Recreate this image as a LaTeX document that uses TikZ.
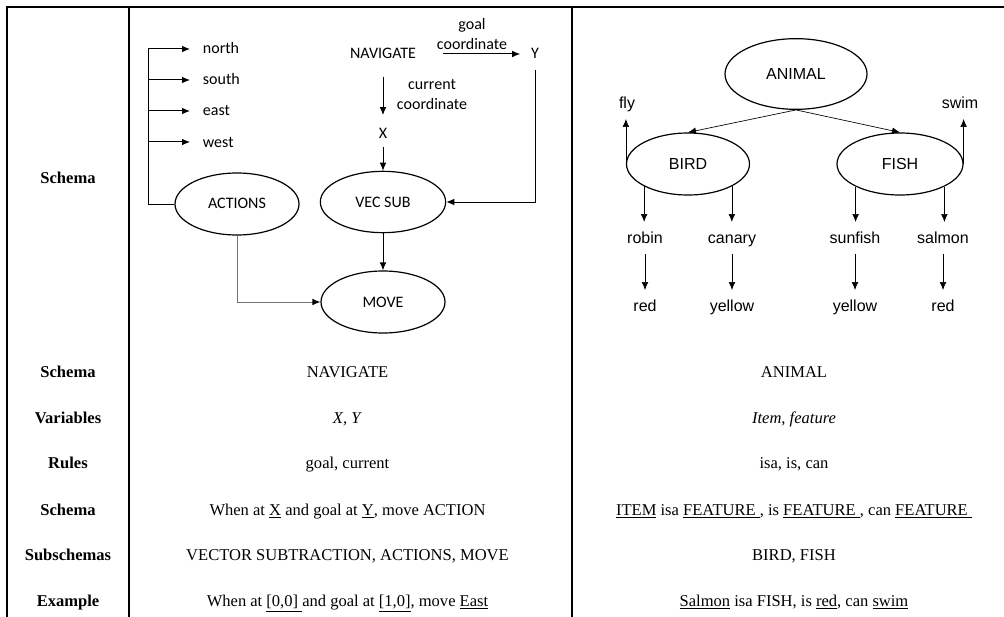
\documentclass[tikz,border=0pt]{standalone}
\usepackage{fontspec}
\setmainfont{Liberation Serif}
\newfontfamily\calibri{Carlito}
\newfontfamily\arial{Liberation Sans}
\usetikzlibrary{shapes, arrows.meta}

\tikzset{
	rule/.style={line width=0.9pt},
	bubble/.style={draw, ellipse, line width=0.9pt, inner sep=0pt,
		font=\fontsize{12}{15}\calibri, text height=7.5pt, text depth=0pt},
	oval/.style={draw, ellipse, line width=0.9pt, inner sep=0pt,
		font=\fontsize{12}{15}\arial, text height=8.6pt, text depth=0pt},
	tag/.style={font=\fontsize{12}{15}\calibri, text height=7.5pt, text depth=0pt, inner sep=5pt},
	note/.style={font=\fontsize{12}{15}\calibri, align=center, inner sep=1pt},
	word/.style={font=\fontsize{12}{15}\arial, text height=8.6pt, text depth=0pt,
		inner xsep=3pt, inner ysep=7.5pt},
	cell/.style={font=\fontsize{12.4}{15}\selectfont, text height=8.2pt, text depth=0pt, inner sep=0pt},
	head/.style={cell, font=\fontsize{12.4}{15}\selectfont\bfseries},
	link/.style={->, line width=0.75pt},
	thin link/.style={->, line width=0.5pt},
}

\begin{document}
\begin{tikzpicture}[x=0.75pt, y=-0.75pt, >={Latex[length=6pt, width=5pt]}]
	\useasboundingbox (0,0) rectangle (1004,617);

	% table rules
	\draw[rule] (7,617) -- (7,7) -- (1004,7);
	\draw[rule] (129,7) -- (129,617);
	\draw[rule] (572,7) -- (572,617);

	% navigate schema
	\coordinate (trunk) at (148,49);
	\node[tag, anchor=west] (north) at (196,49)  {north};
	\node[tag, anchor=west] (south) at (196,80)  {south};
	\node[tag, anchor=west] (east)  at (196,111) {east};
	\node[tag, anchor=west] (west)  at (196,142) {west};

	\node[bubble, minimum width=93pt, minimum height=46.5pt] (actions) at (237,204) {ACTIONS};
	\node[bubble, minimum width=94pt, minimum height=46pt]   (vecsub)  at (383,202) {VEC SUB};
	\node[bubble, minimum width=93pt, minimum height=46.5pt] (move)    at (383,302) {MOVE};

	\node[tag] (navigate) at (383,54)  {NAVIGATE};
	\node[tag] (x)        at (383,133) {X};
	\node[tag] (y)        at (535,54)  {Y};
	\coordinate (goalstart) at (443,54);
	\node[note] (goal)    at (472,34) {goal\\coordinate};
	\node[note] (current) at (432,95) {current\\coordinate};

	\draw[line width=0.75pt] (actions.west) -| (trunk);
	\draw[link, shorten >=4.5pt] (trunk) -- (north);
	\draw[link, shorten >=4.5pt] (trunk |- south) -- (south);
	\draw[link, shorten >=4.5pt] (trunk |- east) -- (east);
	\draw[link, shorten >=4.5pt] (trunk |- west) -- (west);

	\draw[link, shorten <=8pt, shorten >=4.5pt] (navigate) -- (x);
	\draw[link, shorten <=1.5pt] (x) -- (vecsub);
	\draw[link, shorten >=3pt] (goalstart) -- (y);
	\draw[link, shorten <=3pt] (y) |- (vecsub);
	\draw[link] (vecsub) -- (move);
	\draw[line width=0.75pt, draw=black!55, -{Latex[length=6pt, width=5pt, color=black]}]
		(actions) |- (move);

	% animal schema
	\node[oval, minimum width=106.5pt, minimum height=53pt] (animal) at (796,74) {ANIMAL};
	\node[oval, minimum width=92.25pt, minimum height=46.5pt] (bird) at (688,164) {BIRD};
	\node[oval, minimum width=94.5pt, minimum height=46.5pt]  (fish) at (900,164) {FISH};

	\node[word] (fly)     at (627,103) {fly};
	\node[word] (swim)    at (960,103) {swim};
	\node[word] (robin)   at (645,238) {robin};
	\node[word] (canary)  at (732,238) {canary};
	\node[word] (sunfish) at (855,238) {sunfish};
	\node[word] (salmon)  at (943,238) {salmon};
	\node[word] (redA)    at (645,306) {red};
	\node[word] (yellowA) at (732,306) {yellow};
	\node[word] (yellowB) at (855,306) {yellow};
	\node[word] (redB)    at (943,306) {red};

	\draw[thin link] (animal.south) -- (bird.north);
	\draw[thin link] (animal.south) -- (fish.north);
	\draw[thin link] (bird.west) -- (bird.west |- fly.south);
	\draw[thin link] (fish.east) -- (fish.east |- swim.south);
	\draw[thin link] (bird.-153) -- (bird.-153 |- robin.north);
	\draw[thin link] (bird.-27)  -- (bird.-27 |- canary.north);
	\draw[thin link] (fish.-153) -- (fish.-153 |- sunfish.north);
	\draw[thin link] (fish.-27)  -- (fish.-27 |- salmon.north);
	\draw[thin link] (robin)   -- (redA);
	\draw[thin link] (canary)  -- (yellowA);
	\draw[thin link] (sunfish) -- (yellowB);
	\draw[thin link] (salmon)  -- (redB);

	% row headings
	\node[head] (hschema)  at (68,178) {Schema};
	\node[head] (hname)    at (68,372) {Schema};
	\node[head] (hvars)    at (68,418) {Variables};
	\node[head] (hrules)   at (68,463) {Rules};
	\node[head] (hform)    at (68,510) {Schema};
	\node[head] (hsub)     at (68,555) {Subschemas};
	\node[head] (hexample) at (68,601) {Example};

	% navigate column
	\node[cell] (navname)  at (347.5,372) {NAVIGATE};
	\node[cell] (navvars)  at (347.5,418) {\textit{X, Y}};
	\node[cell] (navrules) at (347.5,463) {goal, current};
	\node[cell] (navform)  at (347.5,510) {When at \underline{X} and goal at \underline{Y}, move ACTION};
	\node[cell] (navsub)   at (347.5,555) {VECTOR SUBTRACTION, ACTIONS, MOVE};
	\node[cell] (navex)    at (347.5,601)
		{When at \underline{[0,0]\ }and goal at \underline{[1,0]}, move \underline{East}};

	% animal column
	\node[cell] (aniname)  at (794,372) {ANIMAL};
	\node[cell] (anivars)  at (794,418) {\textit{Item}, \textit{feature}};
	\node[cell] (anirules) at (794,463) {isa, is, can};
	\node[cell] (aniform)  at (794,510)
		{\underline{ITEM} isa \underline{FEATURE\ }, is \underline{FEATURE\ }, can \underline{FEATURE\ }};
	\node[cell] (anisub)   at (794,555) {BIRD, FISH};
	\node[cell] (aniex)    at (794,601)
		{\underline{Salmon} isa FISH, is \underline{red}, can \underline{swim}};
\end{tikzpicture}
\end{document}
